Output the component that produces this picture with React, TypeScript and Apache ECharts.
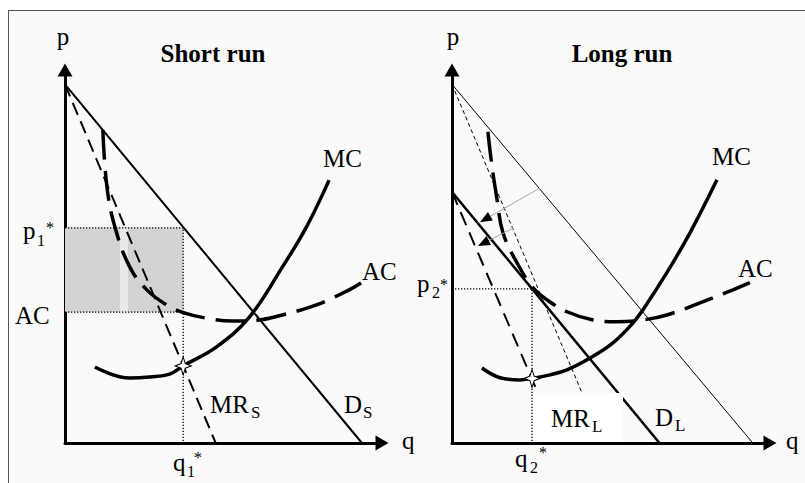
import React, { useEffect, useRef } from "react";
import * as echarts from "echarts";

// ---------- data (quantity q, price p) ----------
const Q_MAX = 107.3;
const P_MAX = 104;

// Short run
const shortDemand = [[0, 100], [100.5, 0]];
const shortMR = [[0, 100], [51, 0]];
const shortMC = [
  [10.1, 21.2], [21.9, 18.1], [28.7, 18.4], [35.4, 19.2], [40, 21.5],
  [51.3, 26.8], [62.4, 35.1], [73.6, 49.1], [81.7, 60.2], [89.4, 73.3],
];
const shortAC = [
  [12.8, 87.3], [14.2, 71.4], [16.9, 60.2], [21.9, 49.1], [27.7, 42.7],
  [34.4, 38.5], [39.5, 36.5], [47.9, 34.8], [56.7, 34.0], [65.8, 34.3],
  [73.6, 35.7], [85.1, 38.5], [96.2, 42.7], [100.2, 44.6],
];
const shortQty = 40;
const shortPrice = 60;
const shortAvgCost = 36.5;
const shortMRatQ = 21.5;
const shadeStripe = [18.6, 21.3];

// Long run
const longOldDemand = [[0, 100], [101.5, 0]];
const longOldMR = [[0, 100], [43.9, 13.9]];
const longDemand = [[0, 70], [70, 0]];
const longMR = [[0, 70], [29, 13.9]];
const longMC = [
  [10.1, 20.9], [16.2, 18.2], [22.9, 17.6], [27, 18], [33.1, 19.0],
  [38.8, 20.4], [46.6, 23.7], [54.3, 27.9], [61.1, 33.5], [64.4, 37.1],
  [72.5, 47.5], [80.3, 58.6], [89.4, 73.4],
];
const longAC = [
  [12.1, 86.8], [13.5, 77.1], [15.2, 67.9], [17.2, 58.6], [21.9, 50.3],
  [27.3, 43.3], [32.1, 39.9], [38.8, 36.6], [47.6, 34.3], [55.7, 33.8],
  [64.4, 34.3], [72.5, 35.7], [83.7, 39.1], [94.8, 42.7], [100.5, 44.7],
];
const longQty = 27;
const longPrice = 43;
const longMRatQ = 18;
const shiftArrows = [
  [[29.7, 71.1], [11.2, 62.4]],
  [[20.6, 59.9], [10.6, 55.7]],
];

// ---------- helpers ----------
const FONT = '"Liberation Serif", "Times New Roman", serif';
const STAR = "path://M10,0 L12.6,7.4 L20,10 L12.6,12.6 L10,20 L7.4,12.6 L0,10 L7.4,7.4 Z";

function lineSeries(g: number, data: number[][], width: number, type: any, extra: any = {}) {
  return {
    type: "line",
    xAxisIndex: g,
    yAxisIndex: g,
    data,
    symbol: "none",
    silent: true,
    smooth: extra.smooth ?? 0,
    lineStyle: { color: extra.color ?? "#000", width, type, cap: "butt", join: "round" },
    z: extra.z ?? 3,
    markArea: extra.markArea,
    markLine: extra.markLine,
  };
}

function txt(text: string, x: number, baseline: number, size = 25, align = "left", bold = false) {
  return {
    type: "text",
    x,
    y: baseline - 0.34 * size,
    z: 100,
    silent: true,
    style: {
      text,
      font: `${bold ? "bold " : ""}${size}px ${FONT}`,
      fill: "#000",
      textAlign: align,
      textVerticalAlign: "middle",
    },
  };
}

function arrowMarkLines(arrows: number[][][]) {
  const data: any[] = [];
  arrows.forEach(([a, b]) => {
    data.push([
      { coord: a, lineStyle: { color: "#a8a8a8", width: 1, type: "solid" }, symbol: "none" },
      { coord: b, symbol: "none" },
    ]);
    const back = [b[0] + (a[0] - b[0]) * 0.08, b[1] + (a[1] - b[1]) * 0.08];
    data.push([
      { coord: back, lineStyle: { color: "#000", width: 1, type: "solid" }, symbol: "none" },
      { coord: b, symbol: "triangle", symbolSize: [10, 12] },
    ]);
  });
  return { silent: true, animation: false, label: { show: false }, symbol: ["none", "triangle"], symbolSize: [10, 12], data };
}

function axisPair(g: number) {
  const axisLine = {
    show: true,
    symbol: ["none", "triangle"],
    symbolSize: [15, 13],
    lineStyle: { color: "#000", width: 3 },
  };
  return {
    x: {
      type: "value", gridIndex: g, min: 0, max: Q_MAX,
      axisLine, axisTick: { show: false }, axisLabel: { show: false }, splitLine: { show: false },
    },
    y: {
      type: "value", gridIndex: g, min: 0, max: P_MAX,
      axisLine, axisTick: { show: false }, axisLabel: { show: false }, splitLine: { show: false },
    },
  };
}

export default function App() {
  const ref = useRef<HTMLDivElement>(null);

  useEffect(() => {
    const chart = echarts.init(ref.current!, null, { renderer: "svg" });
    const a0 = axisPair(0);
    const a1 = axisPair(1);

    const acDash = [30, 11];

    const option: any = {
      animation: false,
      grid: [
        { left: 65, top: 70, width: 317, height: 373 },
        { left: 452, top: 70, width: 318, height: 373 },
      ],
      xAxis: [a0.x, a1.x],
      yAxis: [a0.y, a1.y],
      series: [
        // ---- short run ----
        lineSeries(0, [[0, shortPrice], [shortQty, shortPrice], [shortQty, 0]], 1.3, [1.3, 1.7], {
          z: 2,
          markArea: {
            silent: true,
            data: [
              [
                { coord: [0, shortAvgCost], itemStyle: { color: "#d3d3d3" } },
                { coord: [shortQty, shortPrice] },
              ],
              [
                { coord: [shadeStripe[0], shortAvgCost], itemStyle: { color: "#e9e9e9" } },
                { coord: [shadeStripe[1], shortPrice] },
              ],
            ],
          },
        }),
        lineSeries(0, [[0, shortAvgCost], [shortQty, shortAvgCost]], 1.3, [1.3, 1.7], { z: 2 }),
        lineSeries(0, shortDemand, 2),
        lineSeries(0, shortMR, 2, [13, 7]),
        lineSeries(0, shortMC, 3.5, "solid", { smooth: 0.4 }),
        lineSeries(0, shortAC, 3.5, acDash, { smooth: 0.4 }),
        {
          type: "scatter", xAxisIndex: 0, yAxisIndex: 0, silent: true, z: 10,
          data: [[shortQty, shortMRatQ]], symbol: STAR, symbolSize: [16, 18],
          itemStyle: { color: "#fff", borderColor: "#000", borderWidth: 1, opacity: 1 },
        },
        // ---- long run ----
        lineSeries(1, [[0, longPrice], [longQty, longPrice], [longQty, 0]], 1.3, [1.3, 1.7], { z: 2 }),
        lineSeries(1, longOldDemand, 1),
        lineSeries(1, longOldMR, 1, [4, 3]),
        lineSeries(1, longDemand, 2.5, "solid", { markLine: arrowMarkLines(shiftArrows) }),
        lineSeries(1, longMR, 2, [14, 8]),
        lineSeries(1, longMC, 3.5, "solid", { smooth: 0.4 }),
        lineSeries(1, longAC, 3.5, acDash, { smooth: 0.4 }),
        {
          type: "scatter", xAxisIndex: 1, yAxisIndex: 1, silent: true, z: 10,
          data: [[longQty, longMRatQ]], symbol: STAR, symbolSize: [16, 18],
          itemStyle: { color: "#fff", borderColor: "#000", borderWidth: 1, opacity: 1 },
        },
      ],
      graphic: [
        // MR_L label box
        {
          type: "rect", z: 50, silent: true,
          shape: { x: 533, y: 393, width: 90, height: 48.5 },
          style: { fill: "#ffffff" },
        },
        // left panel labels
        txt("p", 63, 45, 25, "center"),
        txt("Short run", 213, 62, 25, "center", true),
        txt("MC", 323, 167),
        txt("AC", 362, 280),
        txt("AC", 15, 324),
        txt("p", 23, 239), txt("1", 37, 246, 16), txt("*", 46, 233, 16),
        txt("MR", 210, 413), txt("S", 251, 418, 17),
        txt("D", 344, 413), txt("S", 363, 418, 17),
        txt("q", 173, 471), txt("1", 187, 477, 16), txt("*", 194, 463, 16),
        txt("q", 402, 449),
        // right panel labels
        txt("p", 453, 45, 25, "center"),
        txt("Long run", 622, 62, 25, "center", true),
        txt("MC", 712, 165),
        txt("AC", 738, 277),
        txt("p", 417, 292), txt("2", 432, 298, 16), txt("*", 440, 290, 16),
        txt("q", 515, 467), txt("2", 530, 473, 16), txt("*", 539, 458, 16),
        txt("MR", 551, 427), txt("L", 592, 432, 17),
        txt("D", 655, 426), txt("L", 675, 431, 17),
        txt("q", 786, 449),
      ],
    };

    chart.setOption(option);
    return () => chart.dispose();
  }, []);

  return (
    <div style={{ position: "fixed", left: 0, top: 0, width: 805, height: 483, background: "#fff", overflow: "hidden" }}>
      <div
        style={{
          position: "absolute", left: 8, top: 10, width: 820, height: 500,
          border: "1.5px solid #555", background: "#fafafa", boxSizing: "border-box",
        }}
      />
      <div ref={ref} style={{ position: "absolute", left: 0, top: 0, width: 805, height: 483 }} />
    </div>
  );
}
